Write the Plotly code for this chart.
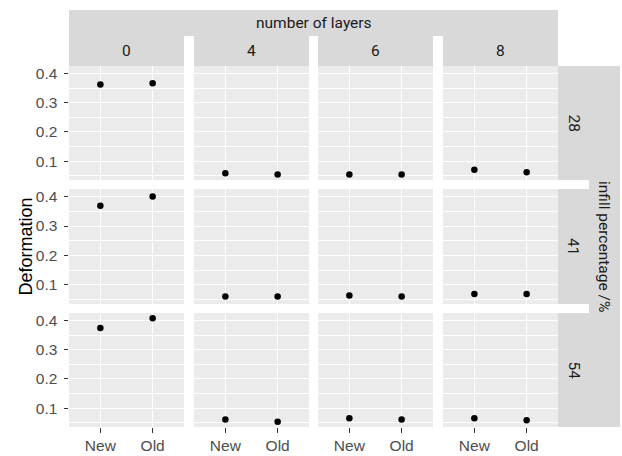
import plotly.graph_objects as go

W, H = 622, 456

# ---- data ----
layers = ["0", "4", "6", "8"]          # number of layers (columns)
infill = ["28", "41", "54"]            # infill percentage (rows)
versions = ["New", "Old"]              # x categories
# deformation per infill row, per layer: [New, Old]
def_28 = [[0.362, 0.367], [0.058, 0.054], [0.054, 0.054], [0.070, 0.062]]
def_41 = [[0.369, 0.400], [0.061, 0.061], [0.064, 0.061], [0.069, 0.069]]
def_54 = [[0.374, 0.408], [0.061, 0.053], [0.065, 0.061], [0.065, 0.058]]
deformation = [def_28, def_41, def_54]

# ---- layout geometry (pixels) ----
col_px = [(69, 184), (194, 309), (318, 433), (443, 558)]
row_px = [(66, 180), (189, 304), (313, 427)]
strip_top = (10, 35)
strip_right = (558, 589, 620)

allv = [v for row in deformation for pair in row for v in pair]
lo, hi = min(allv), max(allv)
pad = 0.05 * (hi - lo)
yr = [lo - pad, hi + pad]

def px_x(x):
    return x / W

def px_y(y):
    return 1 - y / H

AX_FONT = dict(family="Liberation Sans, Arial, sans-serif", size=15.5, color="#4D4D4D")
STRIP_FONT = dict(family="Roboto, Liberation Sans, sans-serif", size=15.5, color="#1A1A1A")
STRIP_FONT2 = dict(family="Roboto, Liberation Sans, sans-serif", size=15.5, color="#1A1A1A")
STRIP_BG = "#D9D9D9"

fig = go.Figure()
layout = {}
for r in range(3):
    for c in range(4):
        k = r * 4 + c + 1
        sfx = "" if k == 1 else str(k)
        fig.add_trace(go.Scatter(
            x=versions, y=deformation[r][c], mode="markers",
            marker=dict(color="black", size=6.5),
            xaxis="x" + sfx, yaxis="y" + sfx, showlegend=False,
            hoverinfo="skip"))
        x0, x1 = col_px[c]
        y0, y1 = row_px[r]
        layout["xaxis" + sfx] = dict(
            domain=[px_x(x0), px_x(x1)], anchor="y" + sfx,
            type="category", categoryorder="array", categoryarray=versions,
            range=[-0.6, 1.6], showgrid=True, gridcolor="white", gridwidth=1.2,
            zeroline=False, showline=False,
            ticks="outside" if r == 2 else "", ticklen=4.5, tickwidth=1,
            tickcolor="#333333", showticklabels=(r == 2), tickfont=AX_FONT,
            fixedrange=True)
        layout["yaxis" + sfx] = dict(
            domain=[px_y(y1), px_y(y0)], anchor="x" + sfx,
            range=yr, tick0=0, dtick=0.1, tickformat=".1f",
            showgrid=True, gridcolor="white", gridwidth=1.2,
            minor=dict(tick0=0, dtick=0.05, showgrid=True, gridcolor="white",
                       gridwidth=0.6, ticks=""),
            zeroline=False, showline=False,
            ticks="outside" if c == 0 else "", ticklen=4.5, tickwidth=1,
            tickcolor="#333333", showticklabels=(c == 0), tickfont=AX_FONT,
            ticklabelstandoff=3, fixedrange=True)

shapes = []
annotations = []
# top outer strip
shapes.append(dict(type="rect", xref="paper", yref="paper",
                   x0=px_x(col_px[0][0]), x1=px_x(col_px[-1][1]),
                   y0=px_y(strip_top[1] + 1), y1=px_y(strip_top[0]),
                   fillcolor=STRIP_BG, line=dict(width=0), layer="below"))
annotations.append(dict(text="number of layers", xref="paper", yref="paper",
                        x=px_x((col_px[0][0] + col_px[-1][1]) / 2),
                        y=px_y((strip_top[0] + strip_top[1]) / 2 + 0.5),
                        showarrow=False, xanchor="center", yanchor="middle",
                        font=STRIP_FONT2))
# top inner strips
for c, lab in enumerate(layers):
    x0, x1 = col_px[c]
    shapes.append(dict(type="rect", xref="paper", yref="paper",
                       x0=px_x(x0), x1=px_x(x1),
                       y0=px_y(row_px[0][0]), y1=px_y(strip_top[1]),
                       fillcolor=STRIP_BG, line=dict(width=0), layer="below"))
    annotations.append(dict(text=lab, xref="paper", yref="paper",
                            x=px_x((x0 + x1) / 2),
                            y=px_y((strip_top[1] + row_px[0][0]) / 2 + 1),
                            showarrow=False, xanchor="center", yanchor="middle",
                            font=STRIP_FONT))
# right inner strips
for r, lab in enumerate(infill):
    y0, y1 = row_px[r]
    shapes.append(dict(type="rect", xref="paper", yref="paper",
                       x0=px_x(strip_right[0]), x1=px_x(strip_right[1] + 1),
                       y0=px_y(y1), y1=px_y(y0),
                       fillcolor=STRIP_BG, line=dict(width=0), layer="below"))
    annotations.append(dict(text=lab, xref="paper", yref="paper",
                            x=px_x((strip_right[0] + strip_right[1]) / 2),
                            y=px_y((y0 + y1) / 2),
                            showarrow=False, xanchor="center", yanchor="middle",
                            textangle=90, font=STRIP_FONT))
# right outer strip
shapes.append(dict(type="rect", xref="paper", yref="paper",
                   x0=px_x(strip_right[1]), x1=px_x(strip_right[2]),
                   y0=px_y(row_px[-1][1]), y1=px_y(row_px[0][0]),
                   fillcolor=STRIP_BG, line=dict(width=0), layer="below"))
annotations.append(dict(text="infill percentage /%", xref="paper", yref="paper",
                        x=px_x((strip_right[1] + strip_right[2]) / 2),
                        y=px_y((row_px[0][0] + row_px[-1][1]) / 2),
                        showarrow=False, xanchor="center", yanchor="middle",
                        textangle=90, font=STRIP_FONT2))
# y-axis title
annotations.append(dict(text="Deformation", xref="paper", yref="paper",
                        x=px_x(25), y=px_y((row_px[0][0] + row_px[-1][1]) / 2),
                        showarrow=False, xanchor="center", yanchor="middle",
                        textangle=-90,
                        font=dict(family="Liberation Sans, Arial, sans-serif",
                                  size=18, color="black")))

fig.update_layout(width=W, height=H, margin=dict(l=0, r=0, t=0, b=0),
                  paper_bgcolor="white", plot_bgcolor="#EBEBEB",
                  shapes=shapes, annotations=annotations, **layout)

fig.write_html(
    "out.html",
    config={"displayModeBar": False},
    post_script="document.body.style.margin='0';document.body.style.padding='0';"
                "document.body.style.overflow='hidden';"
                "document.documentElement.style.overflow='hidden';")
